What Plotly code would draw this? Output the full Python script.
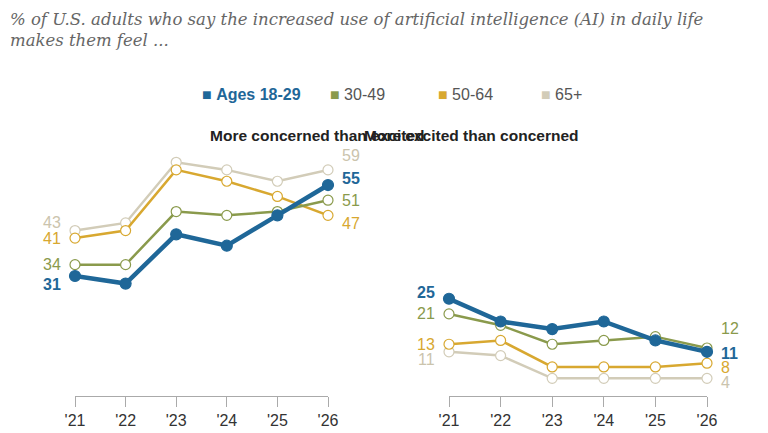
import plotly.graph_objects as go

years = ["'21", "'22", "'23", "'24", "'25", "'26"]
series_names = ["Ages 18-29", "30-49", "50-64", "65+"]
colors = ["#1f6798", "#8a9a4c", "#d8a830", "#d2ccb8"]
label_colors = ["#1f6798", "#8a9a4c", "#d8a830", "#cbc4ad"]
concerned = {
    "Ages 18-29": [31, 29, 42, 39, 47, 55],
    "30-49": [34, 34, 48, 47, 48, 51],
    "50-64": [41, 43, 59, 56, 52, 47],
    "65+": [43, 45, 61, 59, 56, 59],
}
excited = {
    "Ages 18-29": [25, 19, 17, 19, 14, 11],
    "30-49": [21, 18, 13, 14, 15, 12],
    "50-64": [13, 14, 7, 7, 7, 8],
    "65+": [11, 10, 4, 4, 4, 4],
}
titles = ["More concerned than excited", "More excited than concerned"]

fig = go.Figure()
panels = [(concerned, "x", "y"), (excited, "x2", "y2")]
xi = list(range(6))
for data, xa, ya in panels:
    for name, col in reversed(list(zip(series_names, colors))):
        blue = name == "Ages 18-29"
        fig.add_trace(go.Scatter(
            x=xi, y=data[name], xaxis=xa, yaxis=ya, mode="lines+markers",
            line=dict(color=col, width=4.5 if blue else 2.5),
            marker=dict(size=11 if blue else 10, color=col if blue else "white",
                        line=dict(color=col, width=1.2)),
            showlegend=False, hoverinfo="skip"))

def lab(xa, ya, x, y, text, color, bold, side, yshift=0):
    fig.add_annotation(xref=xa, yref=ya, x=x, y=y, text=("<b>%s</b>" % text) if bold else text,
                       showarrow=False, font=dict(color=color, size=16, family="Liberation Sans"),
                       xanchor="right" if side == "l" else "left",
                       xshift=-12 if side == "l" else 12, yshift=yshift)

lshift = {"Ages 18-29": -8, "30-49": 0, "50-64": 0, "65+": 8}
rshift_l = {"Ages 18-29": 7, "30-49": 0, "50-64": -8, "65+": 14}
lshift2 = {"Ages 18-29": 6, "30-49": 0, "50-64": 0, "65+": -8}
rshift2 = {"Ages 18-29": -2, "30-49": 20, "50-64": -4, "65+": -4}
for name, c in zip(series_names, label_colors):
    b = name == "Ages 18-29"
    lab("x", "y", 0, concerned[name][0], concerned[name][0], c, b, "l", lshift[name])
    lab("x", "y", 5, concerned[name][5], concerned[name][5], c, b, "r", rshift_l[name])
    lab("x2", "y2", 0, excited[name][0], excited[name][0], c, b, "l", lshift2[name])
    lab("x2", "y2", 5, excited[name][5], excited[name][5], c, b, "r", rshift2[name])

for t, xc in zip(titles, [200 / 768, 572 / 768]):
    fig.add_annotation(xref="paper", yref="paper", x=xc, y=1 - 117 / 433, text="<b>%s</b>" % t,
                       showarrow=False, font=dict(size=15.5, color="#222", family="Liberation Sans"))

fig.add_annotation(xref="paper", yref="paper", x=0.0, y=1.0, xanchor="left", yanchor="top", align="left",
                   text="<i>% of U.S. adults who say the increased use of artificial intelligence (AI) in daily life<br>makes them feel ...</i>",
                   showarrow=False, font=dict(size=16.5, color="#666", family="DejaVu Serif"))

leg_x = [192, 320, 428, 531]
for name, c, px in zip(series_names, colors, leg_x):
    fig.add_annotation(xref="paper", yref="paper", x=px / 768, y=1 - 76 / 433, xanchor="left",
                       text="<span style='color:%s'>■</span> %s" % (c, ("<b>%s</b>" % name) if name == "Ages 18-29" else name),
                       showarrow=False, font=dict(size=16, color=c if name == "Ages 18-29" else "#555", family="Liberation Sans"))

ax = dict(range=[0, 5], tickvals=xi, ticktext=years, showgrid=False, zeroline=False,
          showline=True, linecolor="#aaa", ticks="outside", tickcolor="#aaa", ticklen=10,
          tickfont=dict(size=16, color="#333", family="Liberation Sans"))
ybot = -0.66
ytop = (385.5 - 140) / 3.79
ay = dict(range=[ybot, ytop], visible=False, showgrid=False, zeroline=False)
fig.update_layout(
    width=768, height=433, margin=dict(l=0, r=0, t=0, b=0, autoexpand=False),
    paper_bgcolor="white", plot_bgcolor="white",
    xaxis=dict(ax, domain=[67 / 768, 320 / 768], anchor="y"),
    xaxis2=dict(ax, domain=[441 / 768, 699 / 768], anchor="y2"),
    yaxis=dict(ay, domain=[1 - 388 / 433, 1 - 140 / 433], anchor="x"),
    yaxis2=dict(ay, domain=[1 - 388 / 433, 1 - 140 / 433], anchor="x2"),
)
fig.update_traces(cliponaxis=False)
fig.write_html("out.html")
